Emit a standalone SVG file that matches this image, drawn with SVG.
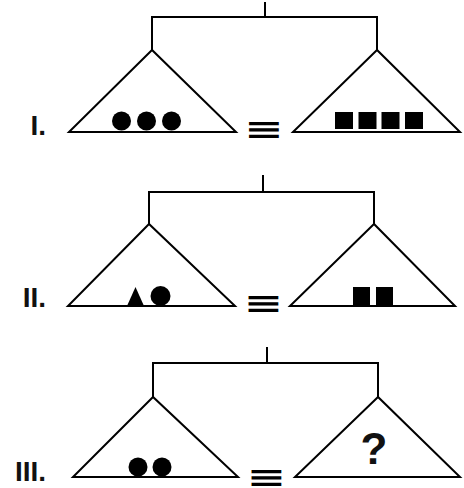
<svg xmlns="http://www.w3.org/2000/svg" width="464" height="488" viewBox="0 0 464 488">
<style>
.ln{fill:none;stroke:#000;stroke-width:2;stroke-linejoin:miter}
.tri{fill:#fff;stroke:#000;stroke-width:2;stroke-linejoin:miter}
.sh{fill:#000}
.lbl{font-family:"Liberation Sans",Arial,sans-serif;font-weight:bold;font-size:28px;fill:#111;text-anchor:end}
.eq{font-family:"DejaVu Sans",sans-serif;font-weight:bold;font-size:36px;fill:#000;text-anchor:middle}
.q{font-family:"Liberation Sans",Arial,sans-serif;font-weight:bold;font-size:44px;fill:#111;text-anchor:middle}
</style>
<rect width="464" height="488" fill="#fff"/>
<g id="connectors">
<line class="ln" x1="265" y1="2" x2="265" y2="17"/>
<path class="ln" d="M152,50 V17 H377 V50"/>
<line class="ln" x1="263" y1="175" x2="263" y2="192"/>
<path class="ln" d="M149,224 V192 H374 V224"/>
<line class="ln" x1="267" y1="347" x2="267" y2="363"/>
<path class="ln" d="M153,397 V363 H378 V397"/>
</g>
<g id="row1">
<text class="lbl" x="46" y="135">I.</text>
<g id="r1-left">
<path class="tri" d="M152,50 L69,132 H236 Z"/>
<circle class="sh" cx="121.5" cy="121" r="9.5"/>
<circle class="sh" cx="146.5" cy="121" r="9.5"/>
<circle class="sh" cx="171.5" cy="121" r="9.5"/>
</g>
<text class="eq" transform="translate(264,129) scale(1.32,0.8)" x="0" y="12.5">≡</text>
<g id="r1-right">
<path class="tri" d="M377,50 L293,132 H460 Z"/>
<rect class="sh" x="335" y="112" width="18" height="17"/>
<rect class="sh" x="358.5" y="112" width="18" height="17"/>
<rect class="sh" x="381.5" y="112" width="18" height="17"/>
<rect class="sh" x="405" y="112" width="18" height="17"/>
</g>
</g>
<g id="row2">
<text class="lbl" x="46" y="307">II.</text>
<g id="r2-left">
<path class="tri" d="M149,224 L68,306 H235 Z"/>
<path class="sh" d="M135.5,287 L144,306 H127 Z"/>
<circle class="sh" cx="160.5" cy="296" r="10"/>
</g>
<text class="eq" transform="translate(263.5,303) scale(1.32,0.8)" x="0" y="12.5">≡</text>
<g id="r2-right">
<path class="tri" d="M374,224 L290,306 H455 Z"/>
<rect class="sh" x="353" y="287" width="17" height="19"/>
<rect class="sh" x="376" y="287" width="17" height="19"/>
</g>
</g>
<g id="row3">
<text class="lbl" x="46" y="481">III.</text>
<g id="r3-left">
<path class="tri" d="M153,397 L73,477 H238 Z"/>
<circle class="sh" cx="138" cy="467" r="9.5"/>
<circle class="sh" cx="162" cy="467" r="9.5"/>
</g>
<text class="eq" transform="translate(266.5,476.5) scale(1.32,0.8)" x="0" y="12.5">≡</text>
<g id="r3-right">
<path class="tri" d="M378,397 L295,477 H460 Z"/>
<text class="q" x="374" y="464">?</text>
</g>
</g>
</svg>
